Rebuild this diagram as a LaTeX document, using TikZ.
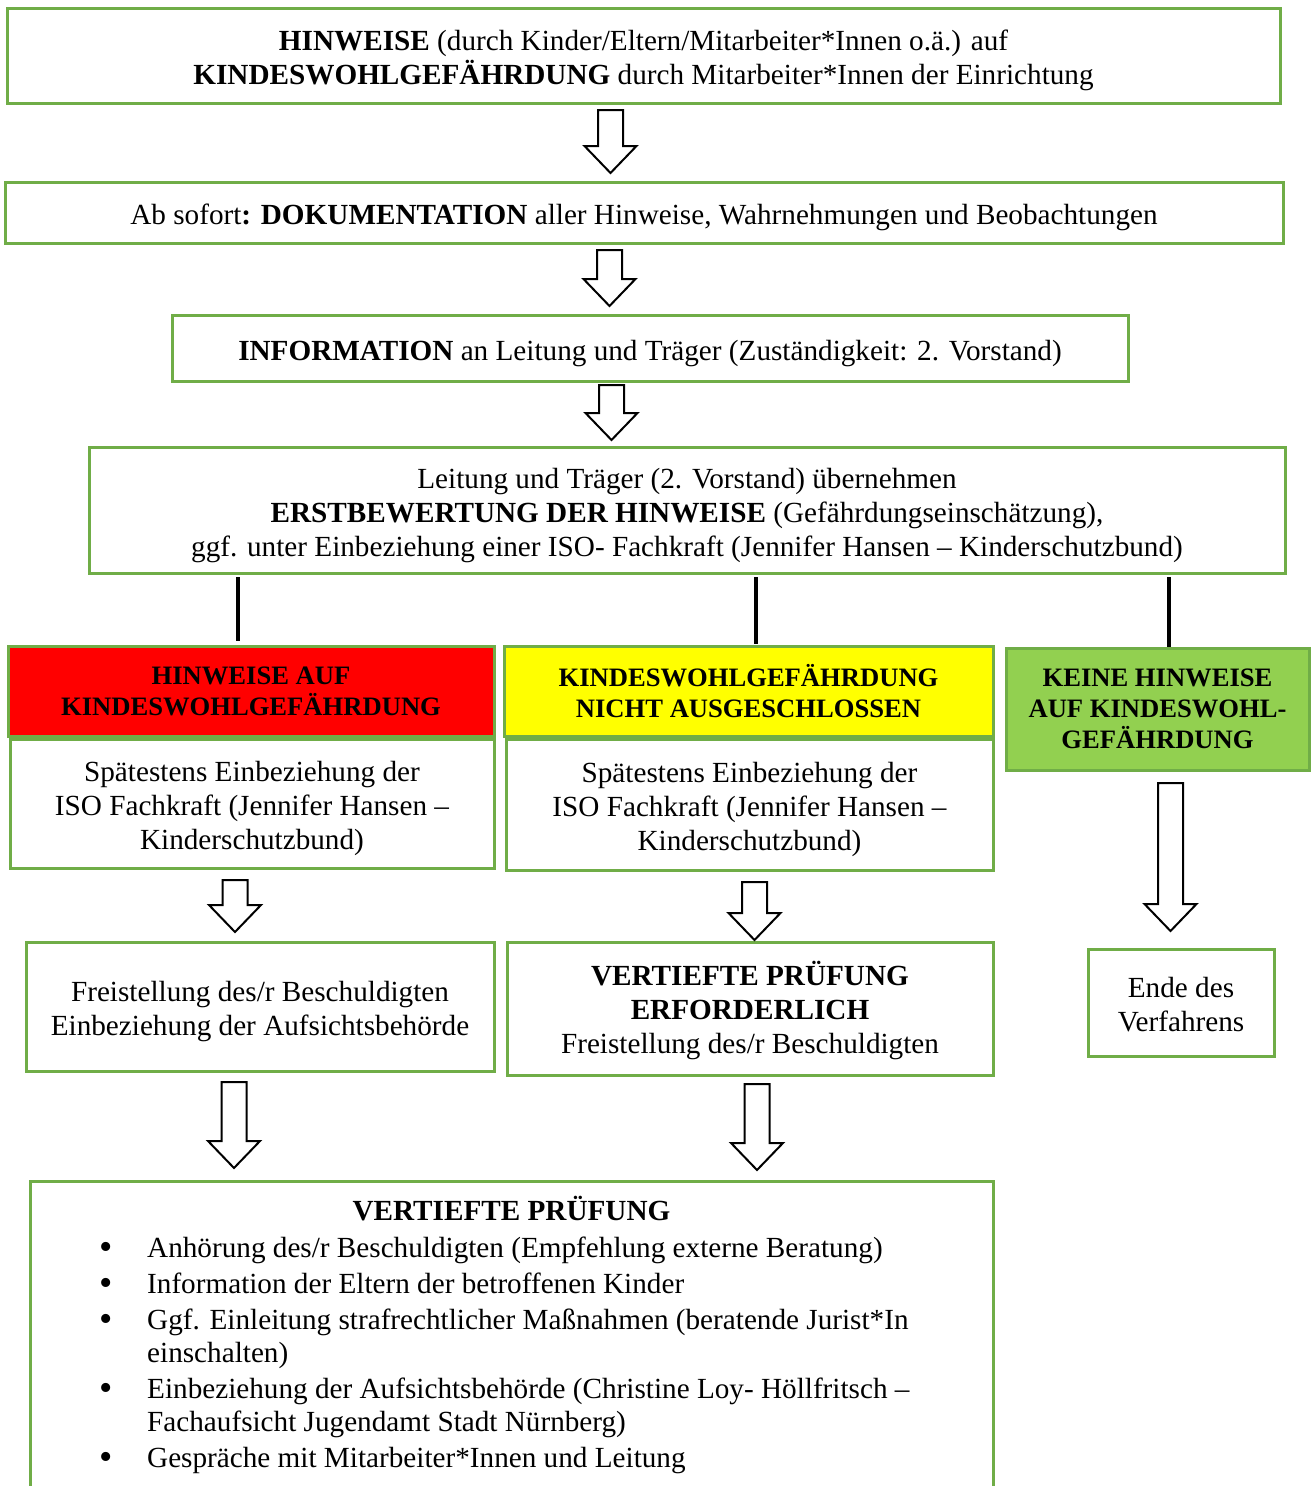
\documentclass[tikz,border=0pt]{standalone}
\usepackage{fontspec}
\usepackage{graphicx}
\setmainfont{Liberation Serif}
\usetikzlibrary{calc}
\definecolor{gborder}{HTML}{70AD47}
\definecolor{redfill}{HTML}{FF0000}
\definecolor{yelfill}{HTML}{FFFF00}
\definecolor{grnfill}{HTML}{92D050}
\newcommand\barrow[5]{%
  \draw[barrowst] let \p1=(#1 -| #3), \p2=(#2 -| #3) in
    (\x1-12.5pt,\y1-#4pt) -- (\x1+12.5pt,\y1-#4pt) -- (\x1+12.5pt,\y2+#5pt+27pt)
    -- (\x1+26pt,\y2+#5pt+27pt) -- (\x1,\y2+#5pt) -- (\x1-26pt,\y2+#5pt+27pt)
    -- (\x1-12.5pt,\y2+#5pt+27pt) -- cycle;}
\newcommand\bul{\llap{\raisebox{-2pt}{\scalebox{1.3}{\textbullet}}\hspace{34pt}}}
\newcommand\fst[1]{\rule{0pt}{#1pt}}
\begin{document}
\begin{tikzpicture}[x=1pt,y=-1pt,
  box/.style={draw=gborder,line width=3pt,inner sep=0pt,outer sep=0pt,align=center,
    font=\fontsize{29.2}{34}\selectfont},
  hl/.style={box,font=\bfseries\fontsize{26.6}{31}\selectfont},
  vline/.style={line width=4pt},
  barrowst/.style={draw=black,line width=2pt,fill=white,line join=miter}]
\useasboundingbox (0,0) rectangle (1311,1486);
\clip (0,0) rectangle (1311,1486);

\node[box,minimum width=1273,minimum height=95] (b1) at (643.5,55.5)
  {\fst{30}\textbf{HINWEISE} (durch Kinder/Eltern/Mitarbeiter*Innen o.ä.) auf\\
   \textbf{KINDESWOHLGEFÄHRDUNG} durch Mitarbeiter*Innen der Einrichtung};
\node[box,minimum width=1278,minimum height=61] (b2) at (644,212.5)
  {\fst{30}Ab sofort\textbf{: DOKUMENTATION} aller Hinweise, Wahrnehmungen und Beobachtungen};
\node[box,minimum width=956,minimum height=66] (b3) at (650,348)
  {\fst{31}\textbf{INFORMATION} an Leitung und Träger (Zuständigkeit: 2. Vorstand)};
\node[box,minimum width=1196,minimum height=126] (b4) at (687,510)
  {\fst{31}Leitung und Träger (2. Vorstand) übernehmen\\
   \textbf{ERSTBEWERTUNG DER HINWEISE} (Gefährdungseinschätzung),\\
   ggf. unter Einbeziehung einer ISO- Fachkraft (Jennifer Hansen – Kinderschutzbund)};

\node[hl,fill=redfill,minimum width=486,minimum height=90] (red) at (251,691)
  {HINWEISE AUF\\KINDESWOHLGEFÄHRDUNG};
\node[box,minimum width=484,minimum height=129] (rw) at (252,803.5)
  {\fst{31}Spätestens Einbeziehung der\\ISO Fachkraft (Jennifer Hansen –\\Kinderschutzbund)};
\node[hl,fill=yelfill,minimum width=489,minimum height=90] (yel) at (748.5,691)
  {KINDESWOHLGEFÄHRDUNG\\NICHT AUSGESCHLOSSEN};
\node[box,minimum width=487,minimum height=131] (yw) at (749.5,804.5)
  {\fst{31}Spätestens Einbeziehung der\\ISO Fachkraft (Jennifer Hansen –\\Kinderschutzbund)};
\node[hl,fill=grnfill,minimum width=303,minimum height=122] (grn) at (1157.5,709)
  {KEINE HINWEISE\\AUF KINDESWOHL-\\GEFÄHRDUNG};

\node[box,minimum width=468,minimum height=129] (fr) at (260,1006.5)
  {\fst{30}Freistellung des/r Beschuldigten\\Einbeziehung der Aufsichtsbehörde};
\node[box,minimum width=486,minimum height=133] (vt) at (750,1008.5)
  {\fst{29}\textbf{VERTIEFTE PRÜFUNG}\\\textbf{ERFORDERLICH}\\Freistellung des/r Beschuldigten};
\node[box,minimum width=186,minimum height=107] (ende) at (1181,1002.5)
  {\fst{24}Ende des\\Verfahrens};

\node[box,minimum width=963,minimum height=349] (bot) at (511.5,1355.5) {};
\node[font=\bfseries\fontsize{29.2}{34}\selectfont,inner sep=0pt] (bt) at (511.5,1209) {VERTIEFTE PRÜFUNG};
\node[font=\fontsize{29.2}{33}\selectfont,inner sep=0pt,align=left,anchor=north west] (bl) at (147,1237)
  {\bul Anhörung des/r Beschuldigten (Empfehlung externe Beratung)\\[3pt]
   \bul Information der Eltern der betroffenen Kinder\\[3pt]
   \bul Ggf. Einleitung strafrechtlicher Maßnahmen (beratende Jurist*In\\
   einschalten)\\[3pt]
   \bul Einbeziehung der Aufsichtsbehörde (Christine Loy- Höllfritsch –\\
   Fachaufsicht Jugendamt Stadt Nürnberg)\\[3pt]
   \bul Gespräche mit Mitarbeiter*Innen und Leitung};

% columns
\coordinate (ax1) at (610.5,0);
\coordinate (ax2) at (609.5,0);
\coordinate (ax3) at (611.5,0);
\coordinate (axr) at (235,0);
\coordinate (axy) at (754.5,0);
\coordinate (axg) at (1170.5,0);
\coordinate (axl) at (234,0);
\coordinate (axm) at (757,0);
\coordinate (c1) at (238,0);
\coordinate (c2) at (756,0);
\coordinate (c3) at (1169,0);

\barrow{b1.south}{b2.north}{ax1}{7}{9}
\barrow{b2.south}{b3.north}{ax2}{7}{9}
\barrow{b3.south}{b4.north}{ax3}{4}{7}
\barrow{rw.south}{fr.north}{axr}{12}{10}
\barrow{yw.south}{vt.north}{axy}{12}{2}
\barrow{grn.south}{ende.north}{axg}{13}{18}
\barrow{fr.south}{bot.north}{axl}{11}{13}
\barrow{vt.south}{bot.north}{axm}{9}{11}

\draw[vline,shorten <=4pt,shorten >=5pt] (b4.south -| c1) -- (red.north -| c1);
\draw[vline,shorten <=4pt,shorten >=2pt] (b4.south -| c2) -- (yel.north -| c2);
\draw[vline,shorten <=4pt,shorten >=1pt] (b4.south -| c3) -- (grn.north -| c3);
\end{tikzpicture}
\end{document}
